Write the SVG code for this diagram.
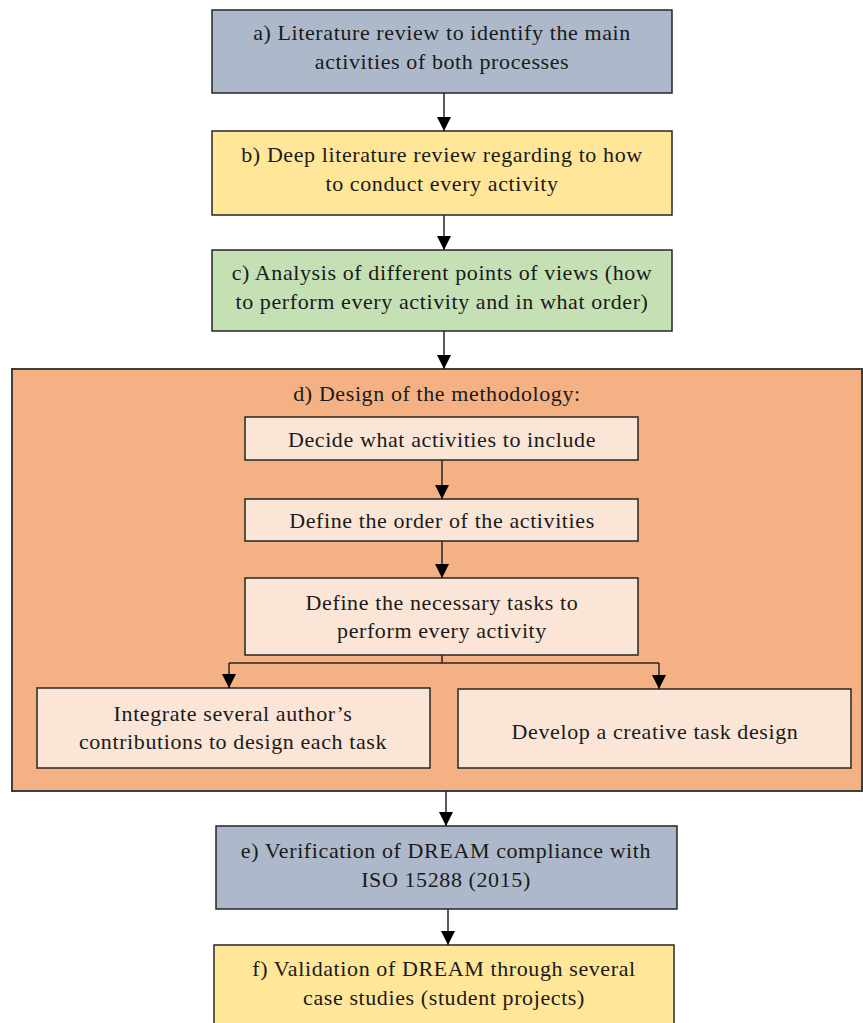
<svg xmlns="http://www.w3.org/2000/svg" width="863" height="1023" viewBox="0 0 863 1023">
<style>
.b{stroke:#262626;stroke-width:1.5}
.t{font-family:"Liberation Serif","DejaVu Serif",serif;font-size:22px;letter-spacing:0.6px;fill:#1a1a1a;text-anchor:middle}
.gray{fill:#adb9ca}.yel{fill:#ffe699}.grn{fill:#c5e0b4}.org{fill:#f4b183;stroke:#3f3f3f;stroke-width:2}.pale{fill:#fbe5d6}
.c{stroke:#262626;stroke-width:1.5;fill:none}
</style>
<defs>
<marker id="ah" viewBox="0 0 14 14" refX="14" refY="7" markerWidth="14" markerHeight="14" markerUnits="userSpaceOnUse" orient="auto">
<path d="M0,0 L14,7 L0,14 Z" fill="#000"/>
</marker>
</defs>
<rect width="863" height="1023" fill="#fff"/>
<g id="nodeA"><rect class="b gray" x="212" y="10" width="460" height="83"/>
<text class="t" x="442" y="40">a) Literature review to identify the main</text>
<text class="t" x="442" y="69">activities of both processes</text></g>
<g id="nodeB"><rect class="b yel" x="212" y="131" width="460" height="84"/>
<text class="t" x="442" y="162">b) Deep literature review regarding to how</text>
<text class="t" x="442" y="191">to conduct every activity</text></g>
<g id="nodeC"><rect class="b grn" x="212" y="250" width="460" height="81"/>
<text class="t" x="442" y="280">c) Analysis of different points of views (how</text>
<text class="t" x="442" y="309">to perform every activity and in what order)</text></g>
<g id="nodeD"><rect class="org" x="12" y="369" width="850" height="422"/>
<text class="t" x="437" y="401">d) Design of the methodology:</text></g>
<g id="nodeD1"><rect class="b pale" x="245" y="417" width="393" height="43"/>
<text class="t" x="442" y="447">Decide what activities to include</text></g>
<g id="nodeD2"><rect class="b pale" x="245" y="499" width="393" height="42"/>
<text class="t" x="442" y="528">Define the order of the activities</text></g>
<g id="nodeD3"><rect class="b pale" x="245" y="578" width="393" height="77"/>
<text class="t" x="442" y="610">Define the necessary tasks to</text>
<text class="t" x="442" y="638">perform every activity</text></g>
<g id="nodeD4"><rect class="b pale" x="37" y="688" width="393" height="80"/>
<text class="t" x="233" y="721">Integrate several author’s</text>
<text class="t" x="233" y="749">contributions to design each task</text></g>
<g id="nodeD5"><rect class="b pale" x="458" y="689" width="393" height="79"/>
<text class="t" x="655" y="739">Develop a creative task design</text></g>
<g id="nodeE"><rect class="b gray" x="216" y="826" width="461" height="83"/>
<text class="t" x="446" y="858">e) Verification of DREAM compliance with</text>
<text class="t" x="446" y="887">ISO 15288 (2015)</text></g>
<g id="nodeF"><rect class="b yel" x="214" y="945" width="460" height="85"/>
<text class="t" x="444" y="976">f) Validation of DREAM through several</text>
<text class="t" x="444" y="1005">case studies (student projects)</text></g>
<g id="connectors">
<path class="c" d="M444,93 V131" marker-end="url(#ah)"/>
<path class="c" d="M444,215 V250" marker-end="url(#ah)"/>
<path class="c" d="M444,331 V369" marker-end="url(#ah)"/>
<path class="c" d="M442,460 V499" marker-end="url(#ah)"/>
<path class="c" d="M442,541 V578" marker-end="url(#ah)"/>
<path class="c" d="M442,655 V663 M229,663 H659"/>
<path class="c" d="M229,663 V688" marker-end="url(#ah)"/>
<path class="c" d="M659,663 V689" marker-end="url(#ah)"/>
<path class="c" d="M446,791 V826" marker-end="url(#ah)"/>
<path class="c" d="M448,909 V945" marker-end="url(#ah)"/>
</g>
</svg>
